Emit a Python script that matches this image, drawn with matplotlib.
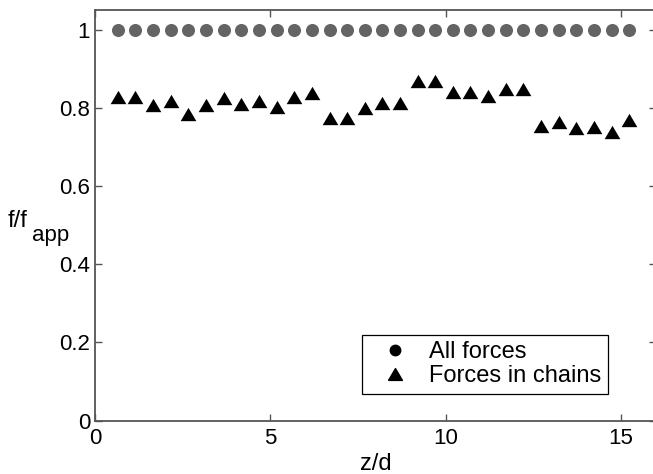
import numpy as np
import matplotlib
matplotlib.use('Agg')
import matplotlib.pyplot as plt
from matplotlib.lines import Line2D

plt.rcParams['font.family'] = ['Liberation Sans', 'DejaVu Sans']

# positions along the pile (z/d)
z = [0.65, 1.15, 1.66, 2.16, 2.66, 3.17, 3.67, 4.17, 4.68, 5.18,
     5.68, 6.18, 6.69, 7.19, 7.69, 8.20, 8.70, 9.20, 9.71, 10.21,
     10.71, 11.22, 11.72, 12.22, 12.73, 13.23, 13.73, 14.24, 14.74, 15.24]

# all forces (normalised)
all_forces = [1.0] * 30

# forces carried in chains
chain_forces = [0.828, 0.828, 0.806, 0.818, 0.784, 0.807, 0.824, 0.809, 0.818, 0.803,
                0.827, 0.838, 0.774, 0.774, 0.799, 0.811, 0.813, 0.868, 0.868, 0.839,
                0.839, 0.831, 0.847, 0.847, 0.754, 0.763, 0.748, 0.750, 0.737, 0.768]

xticks = [0, 5, 10, 15]
yticks = [0, 0.2, 0.4, 0.6, 0.8, 1]
ytick_labels = ['0', '0.2', '0.4', '0.6', '0.8', '1']

# slightly wide triangle like the matlab marker
tri = [(-1, -0.85), (1, -0.85), (0, 0.85), (-1, -0.85)]

fig = plt.figure(figsize=(6.53, 4.74), dpi=100)
ax = fig.add_axes([0.1455, 0.1125, 0.859, 0.8665])

ax.plot(z, all_forces, 'o', color='#646464', markersize=9.4, markeredgewidth=0)
ax.plot(z, chain_forces, ls='none', marker=tri, color='black', markersize=11.3,
        markeredgewidth=0)

ax.set_xlim(0, 16)
ax.set_ylim(0, 1.05)
ax.set_xticks(xticks)
ax.set_yticks(yticks)
ax.set_yticklabels(ytick_labels)
ax.tick_params(direction='in', length=5, width=1, color='#555555',
               top=True, right=True, labelsize=16)
ax.tick_params(axis='y', pad=3.5)
ax.tick_params(axis='x', pad=5)
for s in ax.spines.values():
    s.set_color('#555555')
    s.set_linewidth(1.3)

ax.set_xlabel('z/d', fontsize=17, labelpad=3)
fig.text(0.012, 0.521, 'f/f', fontsize=17, va='baseline', ha='left')
fig.text(0.049, 0.4916, 'app', fontsize=16, va='baseline', ha='left')

handles = [Line2D([], [], ls='none', marker='o', color='black', markersize=7.5),
           Line2D([], [], ls='none', marker=tri, color='black', markersize=10)]
leg = ax.legend(handles, ['All forces', 'Forces in chains'], loc='lower right',
                bbox_to_anchor=(0.914, 0.065), borderaxespad=0, fontsize=17,
                fancybox=False, framealpha=1, edgecolor='black',
                handlelength=2.25, handletextpad=0.3, labelspacing=0.08,
                borderpad=0.28)
leg.get_frame().set_linewidth(0.9)

fig.savefig('out.png', dpi=100)
